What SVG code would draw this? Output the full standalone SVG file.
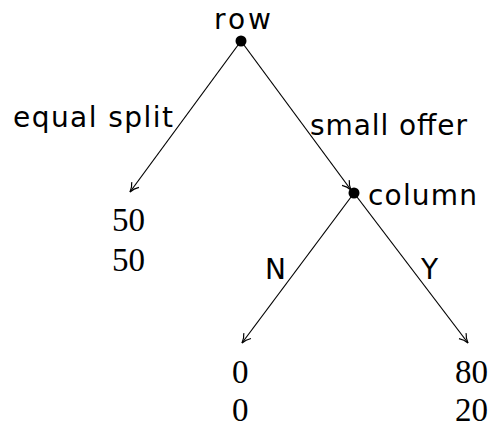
<svg xmlns="http://www.w3.org/2000/svg" width="492" height="428" viewBox="0 0 492 428">
<style>
.s{font-family:"DejaVu Sans","Liberation Sans",sans-serif;font-size:28px;fill:#000}
.n{font-family:"Liberation Serif",serif;font-size:33px;fill:#000}
.e{stroke:#000;stroke-width:1.2;fill:none;marker-end:url(#a)}
</style>
<defs>
<marker id="a" markerWidth="12" markerHeight="12" refX="10" refY="6" orient="auto" markerUnits="userSpaceOnUse">
<path d="M1,1.5 Q5,5 10,6 Q5,7 1,10.5" fill="none" stroke="#000" stroke-width="1.2"/>
</marker>
</defs>
<g id="connectors">
<line class="e" x1="241" y1="41" x2="130" y2="192"/>
<line class="e" x1="241" y1="41" x2="351" y2="190"/>
<line class="e" x1="354" y1="193" x2="242" y2="343"/>
<line class="e" x1="354" y1="193" x2="468" y2="343"/>
<text class="s" x="13" y="127" textLength="160" lengthAdjust="spacing">equal split</text>
<text class="s" x="310" y="135" textLength="157" lengthAdjust="spacing">small offer</text>
<text class="s" x="265" y="279">N</text>
<text class="s" x="421" y="279">Y</text>
</g>
<g id="row"><circle cx="241" cy="41" r="5.5"/><text class="s" x="214" y="29" textLength="57" lengthAdjust="spacing">row</text></g>
<g id="column"><circle cx="354" cy="193" r="5.5"/><text class="s" x="368" y="205" textLength="109" lengthAdjust="spacing">column</text></g>
<g id="leaf1"><text class="n" x="112" y="231">50</text><text class="n" x="112" y="271">50</text></g>
<g id="leaf2"><text class="n" x="232" y="383">0</text><text class="n" x="232" y="421">0</text></g>
<g id="leaf3"><text class="n" x="488" y="383" text-anchor="end">80</text><text class="n" x="488" y="421" text-anchor="end">20</text></g>
</svg>
